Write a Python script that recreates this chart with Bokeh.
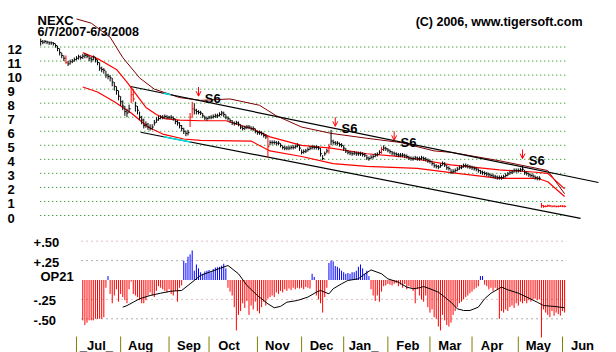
from bokeh.plotting import figure
from bokeh.models import Range1d, ColumnDataSource, Arrow, OpenHead
from bokeh.core.properties import value
from bokeh.embed import file_html
from bokeh.resources import INLINE

# ---------------- data ----------------
ticker = "NEXC"
date_span = "6/7/2007-6/3/2008"
copyright_txt = "(C) 2006, www.tigersoft.com"

close = [12.4, 12.35, 12.4, 12.35, 12.3, 12.3, 12.25, 12.1, 11.9, 11.6,
         11.4, 11.2, 10.9, 10.8, 10.95, 11.0, 11.1, 11.2, 11.3, 11.25,
         11.35, 11.4, 11.35, 11.2, 11.1, 11.3, 11.1, 10.9, 10.5, 10.4,
         10.35, 10.0, 9.9, 9.8, 9.5, 9.2, 8.9, 8.5, 8.1, 7.8,
         7.4, 7.3, 7.6, 8.6, 8.3, 7.8, 7.5, 7.0, 6.8, 6.4,
         6.5, 6.3, 6.2, 6.3, 6.6, 6.8, 6.9, 7.0, 7.0, 7.05,
         7.0, 7.0, 7.0, 6.9, 6.7, 6.6, 6.4, 6.2, 6.0, 5.85,
         5.9, 7.0, 7.6, 7.5, 7.4, 7.35, 7.3, 7.1, 6.95, 6.9,
         7.0, 7.0, 7.05, 7.1, 7.1, 7.2, 7.3, 7.2, 7.0, 6.9,
         6.75, 6.6, 6.55, 6.6, 6.5, 6.3, 6.2, 6.25, 6.3, 6.3,
         6.2, 6.2, 6.0, 5.9, 5.9, 5.85, 5.7, 5.6, 4.9, 5.2,
         5.2, 5.2, 5.15, 5.15, 5.0, 4.85, 4.8, 4.8, 4.8, 4.85,
         4.85, 4.9, 5.0, 4.8, 4.5, 4.55, 4.6, 4.7, 4.8, 4.85,
         4.85, 4.85, 4.8, 4.4, 4.05, 4.4, 4.6, 4.9, 5.3, 5.2,
         5.15, 5.15, 5.05, 5.0, 4.8, 4.6, 4.5, 4.45, 4.4, 4.45,
         4.4, 4.4, 4.4, 4.35, 4.3, 4.1, 4.05, 4.15, 4.2, 4.3,
         4.35, 4.5, 4.7, 4.8, 4.75, 4.65, 4.55, 4.45, 4.4, 4.35,
         4.3, 4.3, 4.3, 4.25, 4.2, 4.1, 4.05, 4.05, 4.1, 4.05,
         4.05, 4.1, 4.05, 4.0, 3.9, 3.85, 3.7, 3.55, 3.5, 3.45,
         3.55, 3.7, 3.6, 3.4, 3.35, 3.1, 3.15, 3.2, 3.3, 3.4,
         3.45, 3.55, 3.55, 3.5, 3.45, 3.4, 3.35, 3.3, 3.2, 3.1,
         3.05, 3.0, 2.95, 2.9, 2.85, 2.8, 2.75, 2.7, 2.7, 2.7,
         2.75, 2.85, 2.95, 3.05, 3.1, 3.2, 3.2, 3.2, 3.25, 3.3,
         3.05, 3.0, 2.9, 2.85, 2.8, 2.7, 2.65, 2.65, 0.7, 0.65,
         0.65, 0.7, 0.68, 0.65, 0.66, 0.64, 0.65, 0.67, 0.66, 0.65]

high = [12.6, 12.5, 12.5, 12.45, 12.4, 12.4, 12.35, 12.25, 12.1, 11.9,
        11.6, 11.4, 11.4, 11.0, 11.1, 11.15, 11.25, 11.35, 11.45, 11.4,
        11.5, 11.55, 11.5, 11.4, 11.3, 11.4, 11.3, 11.1, 10.9, 10.6,
        10.5, 10.3, 10.1, 10.0, 9.8, 9.5, 9.2, 8.9, 8.5, 8.2,
        7.8, 7.6, 7.9, 9.2, 9.0, 8.1, 7.8, 7.4, 7.1, 6.9,
        6.7, 6.6, 6.5, 6.5, 6.8, 7.0, 7.1, 7.15, 7.15, 7.2,
        7.15, 7.1, 7.15, 7.05, 6.9, 6.8, 6.65, 6.45, 6.25, 6.05,
        6.1, 7.3, 8.1, 8.0, 7.6, 7.5, 7.45, 7.3, 7.1, 7.05,
        7.1, 7.15, 7.2, 7.25, 7.25, 7.35, 7.45, 7.4, 7.2, 7.05,
        6.9, 6.8, 6.7, 6.75, 6.7, 6.5, 6.4, 6.4, 6.45, 6.45,
        6.35, 6.35, 6.2, 6.05, 6.05, 6.0, 5.9, 5.8, 5.7, 5.35,
        5.35, 5.35, 5.3, 5.3, 5.15, 5.0, 4.95, 4.95, 4.95, 5.0,
        5.0, 5.05, 5.15, 5.0, 4.7, 4.7, 4.75, 4.85, 4.95, 5.0,
        5.0, 5.0, 4.95, 4.8, 4.3, 4.55, 4.75, 5.1, 6.1, 5.4,
        5.3, 5.3, 5.2, 5.15, 5.0, 4.8, 4.65, 4.6, 4.55, 4.6,
        4.55, 4.55, 4.55, 4.5, 4.45, 4.3, 4.2, 4.3, 4.35, 4.45,
        4.5, 4.65, 4.9, 5.0, 4.9, 4.8, 4.7, 4.6, 4.55, 4.5,
        4.45, 4.45, 4.45, 4.4, 4.35, 4.25, 4.2, 4.2, 4.25, 4.2,
        4.2, 4.25, 4.2, 4.15, 4.05, 4.0, 3.9, 3.75, 3.65, 3.6,
        3.7, 3.85, 3.8, 3.6, 3.5, 3.3, 3.3, 3.35, 3.45, 3.55,
        3.6, 3.7, 3.7, 3.65, 3.6, 3.55, 3.5, 3.45, 3.35, 3.25,
        3.2, 3.15, 3.1, 3.05, 3.0, 2.95, 2.9, 2.85, 2.85, 2.85,
        2.9, 3.0, 3.1, 3.2, 3.25, 3.35, 3.35, 3.35, 3.4, 3.55,
        3.25, 3.15, 3.05, 3.0, 2.95, 2.85, 2.8, 2.8, 0.9, 0.75,
        0.72, 0.78, 0.76, 0.72, 0.73, 0.71, 0.72, 0.74, 0.73, 0.72]

low = [12.1, 12.2, 12.25, 12.2, 12.15, 12.15, 12.1, 11.95, 11.7, 11.4,
       11.2, 11.0, 10.8, 10.65, 10.75, 10.85, 10.95, 11.05, 11.1, 11.1,
       11.15, 11.2, 11.2, 11.0, 10.9, 11.05, 10.9, 10.7, 10.3, 10.2,
       10.1, 9.8, 9.7, 9.55, 9.2, 8.9, 8.6, 8.2, 7.8, 7.5,
       7.1, 7.0, 7.3, 8.0, 8.1, 7.4, 7.2, 6.8, 6.5, 6.2,
       6.25, 6.1, 6.05, 6.1, 6.4, 6.6, 6.75, 6.85, 6.85, 6.9,
       6.85, 6.85, 6.85, 6.75, 6.5, 6.4, 6.2, 6.0, 5.8, 5.65,
       5.7, 6.3, 7.0, 7.2, 7.2, 7.2, 7.15, 6.95, 6.8, 6.75,
       6.85, 6.85, 6.9, 6.95, 6.95, 7.05, 7.1, 7.0, 6.85, 6.75,
       6.6, 6.45, 6.4, 6.45, 6.35, 6.15, 6.05, 6.1, 6.15, 6.15,
       6.05, 6.05, 5.85, 5.75, 5.75, 5.7, 5.55, 5.45, 4.1, 5.0,
       5.05, 5.05, 5.0, 5.0, 4.85, 4.7, 4.65, 4.65, 4.65, 4.7,
       4.7, 4.75, 4.85, 4.6, 4.35, 4.4, 4.45, 4.55, 4.65, 4.7,
       4.7, 4.7, 4.65, 4.2, 3.95, 4.25, 4.45, 4.4, 5.0, 5.05,
       5.0, 5.0, 4.9, 4.85, 4.6, 4.45, 4.35, 4.3, 4.25, 4.3,
       4.25, 4.25, 4.25, 4.2, 4.15, 3.95, 3.9, 4.0, 4.05, 4.15,
       4.2, 4.35, 4.4, 4.6, 4.6, 4.5, 4.4, 4.3, 4.25, 4.2,
       4.15, 4.15, 4.15, 4.1, 4.05, 3.95, 3.9, 3.9, 3.95, 3.9,
       3.9, 3.95, 3.9, 3.85, 3.75, 3.7, 3.55, 3.4, 3.35, 3.3,
       3.4, 3.55, 3.45, 3.25, 3.2, 2.95, 3.0, 3.05, 3.15, 3.25,
       3.3, 3.4, 3.4, 3.35, 3.3, 3.25, 3.2, 3.15, 3.05, 2.95,
       2.9, 2.85, 2.8, 2.75, 2.7, 2.65, 2.6, 2.55, 2.55, 2.55,
       2.6, 2.7, 2.8, 2.9, 2.95, 3.05, 3.05, 3.05, 3.1, 3.15,
       2.9, 2.85, 2.75, 2.7, 2.65, 2.55, 2.5, 2.5, 0.55, 0.55,
       0.58, 0.6, 0.6, 0.58, 0.59, 0.57, 0.58, 0.6, 0.59, 0.58]

red_days = [12, 43, 44, 71, 72, 108, 137, 162] + list(range(238, 250))

# band lines (trading-day index, price)
upper_days = [20, 28, 36, 41, 45, 50, 55, 59, 66, 76, 88, 100, 109, 124, 138, 155, 171, 195, 218, 234, 241, 249]
upper_vals = [11.6, 11.1, 10.4, 9.5, 8.7, 7.7, 7.2, 6.9, 6.8, 6.75, 6.75, 6.2, 5.6, 5.0, 4.8, 4.4, 4.2, 3.6, 3.25, 3.1, 3.0, 1.9]
lower_days = [20, 27, 35, 43, 51, 58, 68, 76, 100, 109, 124, 139, 155, 179, 195, 218, 236, 241, 249]
lower_vals = [9.15, 8.8, 8.1, 7.3, 6.3, 5.8, 5.45, 5.35, 5.3, 4.6, 4.2, 3.7, 3.5, 3.35, 3.05, 2.65, 2.65, 2.4, 1.35]
outer_days = [17, 24, 33, 39, 47, 54, 60, 66, 76, 90, 104, 112, 124, 138, 155, 171, 187, 195, 218, 241, 249]
outer_vals = [14.0, 13.7, 12.7, 11.25, 9.8, 9.0, 8.7, 8.4, 8.2, 8.3, 7.85, 7.1, 6.3, 5.85, 5.5, 5.2, 4.6, 4.5, 3.9, 3.2, 1.55]

# trend lines (start/end day, start/end price)
res_days, res_vals = [42.7, 265.1], [9.19, 2.35]
sup_days, sup_vals = [47.5, 256.6], [5.93, -0.21]
cyan_res_days = [58.4, 61.7]
cyan_sup_days = [58.4, 71.2]

# S6 signals
sig_days = [75, 140, 168, 229]
sig_tips = [8.5, 6.35, 5.35, 4.05]
sig_text = ["S6", "S6", "S6", "S6"]

# OP21 indicator (day 20 .. 249)
op_start = 20
op21 = [-0.52, -0.58, -0.55, -0.52, -0.52, -0.52, -0.5, -0.5, -0.5, -0.5,
        -0.48, -0.1, 0.05, -0.18, -0.3, -0.2, -0.12, -0.28, -0.18, -0.22,
        -0.26, -0.3, -0.12, -0.02, -0.18, -0.2, -0.22, -0.26, -0.3, -0.3,
        -0.26, -0.2, -0.16, -0.2, -0.22, -0.14, -0.08, -0.1, -0.12, -0.14,
        -0.16, -0.12, -0.18, -0.2, -0.14, -0.28, -0.1, -0.07, 0.25, 0.22,
        0.3, 0.33, 0.38, 0.12, 0.2, 0.15, 0.1, 0.08, 0.11, 0.12,
        0.13, 0.1, 0.14, 0.16, 0.165, 0.17, 0.185, 0.21, 0.15, -0.1,
        -0.15, -0.2, -0.35, -0.65, -0.45, -0.4, -0.3, -0.36, -0.27, -0.45,
        -0.33, -0.38, -0.28, -0.4, -0.43, -0.35, -0.28, -0.33, -0.24, -0.22,
        -0.2, -0.22, -0.16, -0.18, -0.14, -0.16, -0.12, -0.14, -0.11, -0.13,
        -0.1, -0.12, -0.1, -0.11, -0.1, -0.12, -0.09, -0.1, -0.11, 0.08,
        0.04, -0.2, -0.25, -0.3, -0.42, -0.22, -0.1, 0.22, 0.25, 0.24,
        0.18, 0.17, 0.15, 0.12, 0.1, 0.08, 0.09, 0.08, 0.1, 0.1,
        0.12, 0.17, 0.2, 0.15, 0.08, 0.12, 0.05, -0.12, -0.2, -0.27,
        -0.2, -0.28, -0.15, -0.08, -0.07, -0.05, -0.06, -0.07, -0.05, -0.04,
        -0.08, -0.06, -0.1, -0.05, -0.12, -0.08, -0.1, -0.14, -0.3, -0.12,
        -0.2, -0.25, -0.28, -0.2, -0.35, -0.42, -0.38, -0.48, -0.5, -0.6,
        -0.65, -0.45, -0.52, -0.58, -0.6, -0.55, -0.45, -0.4, -0.35, -0.3,
        -0.28, -0.25, -0.22, -0.2, -0.17, -0.15, -0.12, -0.1, -0.08, 0.05,
        0.05, -0.06, -0.08, -0.12, -0.1, -0.14, -0.1, -0.12, -0.5, -0.4,
        -0.42, -0.38, -0.4, -0.35, -0.33, -0.36, -0.3, -0.33, -0.28, -0.3,
        -0.27, -0.3, -0.26, -0.28, -0.25, -0.24, -0.26, -0.25, -0.74, -0.38,
        -0.42, -0.45, -0.48, -0.4, -0.46, -0.42, -0.44, -0.46, -0.4, -0.42]

op_ma_days = [39, 41, 44, 47, 52, 57, 62, 67, 71, 73, 76, 89, 94, 98, 103, 108, 111, 114, 117, 122,
              127, 131, 133, 135, 137, 139, 143, 146, 151, 153, 157, 162, 165, 170, 174, 177, 180, 182, 185, 189,
              192, 195, 198, 201, 204, 208, 211, 214, 219, 222, 227, 231, 236, 239, 244, 249]
op_ma_vals = [-0.35, -0.33, -0.286, -0.242, -0.2, -0.17, -0.144, -0.135, -0.049, -0.006,
              0.06, 0.187, 0.08, -0.07, -0.2, -0.307, -0.358, -0.34, -0.286, -0.264,
              -0.22, -0.157, -0.135, -0.157, -0.178, -0.113, -0.049, -0.006, 0.015, 0.058,
              0.13, 0.08, 0.015, -0.028, -0.092, -0.113, -0.1, -0.084, -0.113, -0.157,
              -0.22, -0.286, -0.371, -0.393, -0.393, -0.35, -0.242, -0.17, -0.092, -0.126,
              -0.17, -0.22, -0.286, -0.33, -0.34, -0.358]

price_ticks = list(range(0, 13))
price_labels = [str(t) for t in price_ticks]
op_ticks = [0.5, 0.25, -0.25, -0.5]
op_labels = ["+.50", "+.25", "-.25", "-.50"]
op_name = "OP21"
month_days = [17, 38, 61, 80, 103, 124, 144, 165, 185, 205, 227, 248]
month_labels = ["_Jul_", "Aug", "Sep", "Oct", "Nov", "Dec", "Jan_", "Feb", "Mar", "Apr", "May", "Jun"]

# ---------------- layout constants ----------------
W, H = 616, 352
PX_DAY = 2.104
X_ORG = 40.2
P_ZERO, P_UNIT = 215.0, 14.04
O_ZERO, O_UNIT = 279.5, 77.6
FONT = value("Liberation Sans")

p = figure(width=W, height=H, output_backend="svg", toolbar_location=None,
           x_range=Range1d(-X_ORG / PX_DAY, (W - X_ORG) / PX_DAY),
           y_range=Range1d((P_ZERO - H) / P_UNIT, P_ZERO / P_UNIT),
           x_axis_location=None, y_axis_location=None,
           min_border=0, min_border_left=0, min_border_right=0,
           min_border_top=0, min_border_bottom=0, outline_line_color=None)
p.extra_y_ranges = {"op": Range1d((O_ZERO - H) / O_UNIT, O_ZERO / O_UNIT)}
p.grid.grid_line_color = None
p.background_fill_color = "white"
p.border_fill_color = "white"

n = len(close)
days = list(range(n))

# price grid lines
p.segment(x0=[-0.2] * len(price_ticks), x1=[250.4] * len(price_ticks), y0=price_ticks, y1=price_ticks,
          line_color="#008000", line_width=1, line_dash="1 3")
# price tick labels
p.text(x=[-15.8] * len(price_ticks), y=[t - 0.18 for t in price_ticks], text=price_labels,
       text_font=FONT, text_font_style="bold", text_font_size="13px",
       text_baseline="middle", text_align="left", text_color="black")

# bands
p.line(outer_days, outer_vals, line_color="#800000", line_width=1)
p.line(upper_days, upper_vals, line_color="#ff0000", line_width=1.2)
p.line(lower_days, lower_vals, line_color="#ff0000", line_width=1.2)
# trend lines
p.line(res_days, res_vals, line_color="black", line_width=1.2)
p.line(sup_days, sup_vals, line_color="black", line_width=1.2)


def on_line(dd, vv, d):
    return vv[0] + (vv[1] - vv[0]) * (d - dd[0]) / (dd[1] - dd[0])


p.line(cyan_res_days, [on_line(res_days, res_vals, d) for d in cyan_res_days], line_color="#00e0e0", line_width=1.5)
p.line(cyan_sup_days, [on_line(sup_days, sup_vals, d) for d in cyan_sup_days], line_color="#00e0e0", line_width=1.5)

# price bars
bar_col = ["#ff0000" if d in red_days else "black" for d in days]
src = ColumnDataSource(dict(d=days, hi=high, lo=low, c=close, col=bar_col,
                            dr=[d + 0.75 for d in days]))
p.segment(x0="d", x1="d", y0="lo", y1="hi", line_color="col", line_width=1, source=src)
p.segment(x0="d", x1="dr", y0="c", y1="c", line_color="col", line_width=1, source=src)

# S6 signals
asrc = ColumnDataSource(dict(x=sig_days, y0=[t + 0.65 for t in sig_tips], y1=sig_tips))
p.add_layout(Arrow(end=OpenHead(size=5, line_color="#ff0000", line_width=1),
                   x_start="x", y_start="y0", x_end="x", y_end="y1",
                   line_color="#ff0000", line_width=1, source=asrc))
p.text(x=[d + 3 for d in sig_days], y=[t - 0.15 for t in sig_tips], text=sig_text,
       text_font=FONT, text_font_style="bold", text_font_size="13px",
       text_baseline="middle", text_align="left", text_color="black")

# titles
p.text(x=[-1.5], y=[(P_ZERO - 20) / P_UNIT], text=[ticker], text_font=FONT, text_font_style="bold",
       text_font_size="13px", text_baseline="middle", text_align="left", text_color="black")
p.text(x=[-1.5], y=[(P_ZERO - 31) / P_UNIT], text=[date_span], text_font=FONT, text_font_style="bold",
       text_font_size="12.5px", text_baseline="middle", text_align="left", text_color="black")
p.text(x=[178.2], y=[(P_ZERO - 21) / P_UNIT], text=[copyright_txt], text_font=FONT, text_font_style="bold",
       text_font_size="12.5px", text_baseline="middle", text_align="left", text_color="black")

# ---------------- OP21 panel ----------------
op_days = list(range(op_start, op_start + len(op21)))
op_cols = ["#0000ff" if v > 0 else "#ff0000" for v in op21]
osrc = ColumnDataSource(dict(d=op_days, v=op21, z=[0] * len(op21), col=op_cols))
grid_cols = ["#c08080", "#606060", "#c08080", "#606060"]
p.segment(x0=[19.4] * 4, x1=[250] * 4, y0=op_ticks, y1=op_ticks, line_color=grid_cols,
          line_width=1, line_dash="1 4", y_range_name="op")
p.segment(x0="d", x1="d", y0="z", y1="v", line_color="col", line_width=1, source=osrc, y_range_name="op")
p.line(op_ma_days, op_ma_vals, line_color="black", line_width=1, y_range_name="op")
p.text(x=[-3.4] * 4, y=[t - 0.02 for t in op_ticks], text=op_labels, text_font=FONT,
       text_font_style="bold", text_font_size="13px", text_baseline="middle", text_align="left",
       text_color="black", y_range_name="op")
p.text(x=[-0.1], y=[0.045], text=[op_name], text_font=FONT, text_font_style="bold",
       text_font_size="13px", text_baseline="middle", text_align="left", text_color="black",
       y_range_name="op")

# month ticks and labels
p.segment(x0=month_days, x1=month_days, y0=[-0.728] * len(month_days), y1=[-0.934] * len(month_days),
          line_color="#808000", line_width=1, y_range_name="op")
p.text(x=[d + 9.5 for d in month_days], y=[-0.845] * len(month_days), text=month_labels,
       text_font=FONT, text_font_style="bold", text_font_size="13px", text_baseline="middle",
       text_align="center", text_color="black", y_range_name="op")

open("out.html", "w").write(file_html(p, INLINE))
